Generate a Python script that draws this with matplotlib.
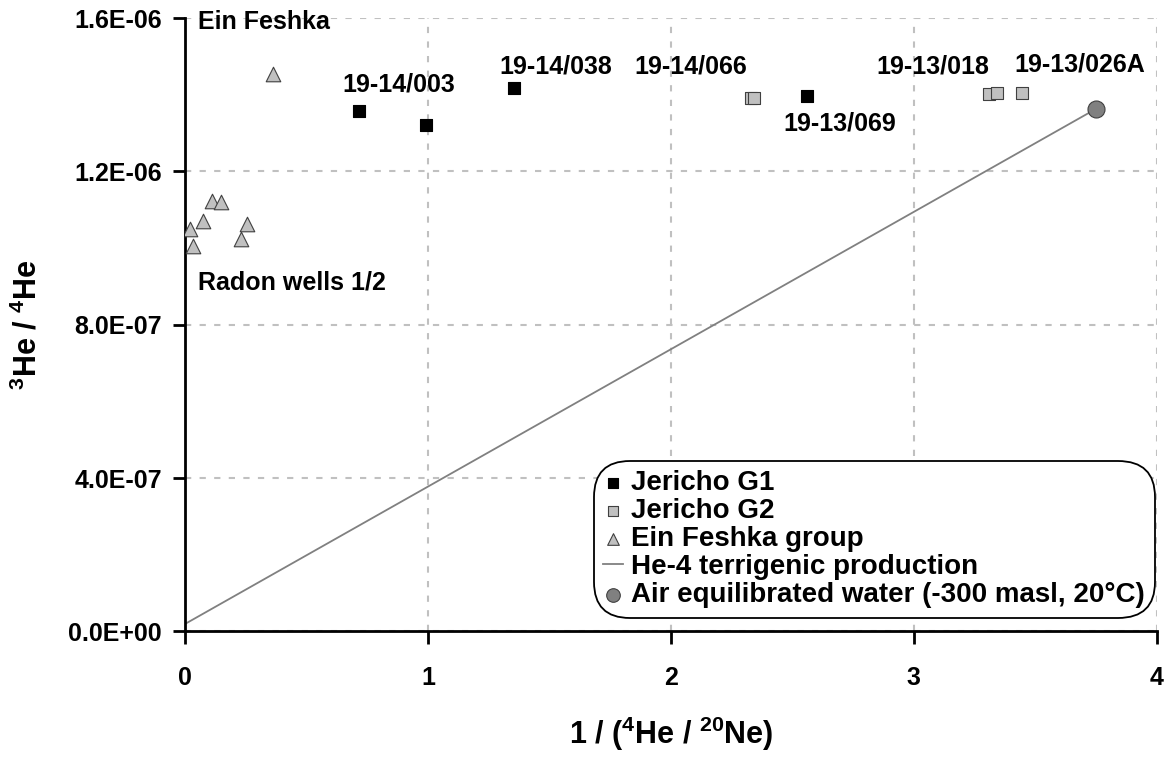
import matplotlib
matplotlib.use("Agg")
import matplotlib.pyplot as plt
from matplotlib.ticker import FuncFormatter

plt.rcParams['font.family'] = ['Liberation Sans', 'DejaVu Sans']
plt.rcParams['font.weight'] = 'bold'
plt.rcParams['mathtext.fontset'] = 'custom'
plt.rcParams['mathtext.rm'] = 'Liberation Sans:bold'
plt.rcParams['mathtext.bf'] = 'Liberation Sans:bold'

# Jericho G1
g1_x = [0.713, 0.989, 1.355, 2.561]
g1_y = [1.358e-6, 1.321e-6, 1.418e-6, 1.398e-6]
# Jericho G2
g2_x = [2.330, 2.341, 3.309, 3.344, 3.447]
g2_y = [1.393e-6, 1.393e-6, 1.401e-6, 1.404e-6, 1.404e-6]
# Ein Feshka group
ef_x = [0.360, 0.110, 0.147, 0.073, 0.021, 0.254, 0.231, 0.030]
ef_y = [1.454e-6, 1.123e-6, 1.121e-6, 1.071e-6, 1.051e-6, 1.062e-6, 1.024e-6, 1.005e-6]
# terrigenic production line
line_x = [0.0, 3.749]
line_y = [2.0e-8, 1.363e-6]
# air equilibrated water
aew_x = [3.749]
aew_y = [1.363e-6]

labels = ["Ein Feshka", "19-14/003", "19-14/038", "19-14/066", "19-13/069",
          "19-13/018", "19-13/026A", "Radon wells 1/2"]
label_x = [0.05, 0.877, 1.524, 2.08, 2.694, 3.077, 3.683, 0.05]
label_y = [1.59e-6, 1.426e-6, 1.473e-6, 1.473e-6, 1.324e-6, 1.473e-6, 1.480e-6, 9.11e-7]
label_ha = ['left', 'center', 'center', 'center', 'center', 'center', 'center', 'left']

fig, ax = plt.subplots(figsize=(11.66, 7.58), dpi=100)
fig.subplots_adjust(left=0.159, right=0.992, top=0.976, bottom=0.167)

ax.plot(line_x, line_y, color='#808080', lw=1.3, label='He-4 terrigenic production', zorder=2)
ax.scatter(g1_x, g1_y, marker='s', s=85, c='black', edgecolors='black', lw=0.8,
           label='Jericho G1', zorder=3)
ax.scatter(g2_x, g2_y, marker='s', s=85, c='#c0c0c0', edgecolors='#404040', lw=0.8,
           label='Jericho G2', zorder=3)
ax.scatter(ef_x, ef_y, marker='^', s=110, c='#c0c0c0', edgecolors='#404040', lw=0.8,
           label='Ein Feshka group', zorder=3)
ax.scatter(aew_x, aew_y, marker='o', s=150, c='#808080', edgecolors='#404040', lw=0.8,
           label='Air equilibrated water (-300 masl, 20°C)', zorder=3)

for t, x, y, ha in zip(labels, label_x, label_y, label_ha):
    ax.text(x, y, t, ha=ha, va='center', fontsize=18, fontweight='bold')

ax.set_xlim(0, 4)
ax.set_ylim(0, 1.6e-6)
ax.set_xticks([0, 1, 2, 3, 4])
ax.set_yticks([0, 4e-7, 8e-7, 1.2e-6, 1.6e-6])
ax.yaxis.set_major_formatter(FuncFormatter(lambda v, p: f"{v:.1E}"))
ax.tick_params(labelsize=18, width=2, length=9, direction='out')
ax.tick_params(axis='x', pad=16)
ax.tick_params(axis='y', pad=8)
ax.grid(True, color='#c0c0c0', ls=(0, (3, 4)), lw=1.5)
ax.spines['top'].set_visible(False)
ax.spines['right'].set_visible(False)
ax.spines['left'].set_linewidth(2)
ax.spines['bottom'].set_linewidth(2)
for lab in ax.get_xticklabels() + ax.get_yticklabels():
    lab.set_fontweight('bold')

ax.set_xlabel(r'1 / ($^{4}$He / $^{20}$Ne)', fontsize=22, fontweight='bold', labelpad=18)
ax.set_ylabel(r'$^{3}$He / $^{4}$He', fontsize=22, fontweight='bold')
ax.yaxis.set_label_coords(-0.146, 0.5)

h, l = ax.get_legend_handles_labels()
order = [1, 2, 3, 0, 4]
leg = ax.legend([h[i] for i in order], [l[i] for i in order], loc='lower right',
                bbox_to_anchor=(1.005, 0.011), fontsize=20, handlelength=0.7,
                handletextpad=0.3, labelspacing=0.07, borderpad=0.1,
                markerscale=0.8, fancybox=True, framealpha=1, edgecolor='black')
leg.get_frame().set_boxstyle('round', pad=0.25, rounding_size=1.3)
leg.get_frame().set_linewidth(1.3)

fig.savefig('out.png', dpi=100)
